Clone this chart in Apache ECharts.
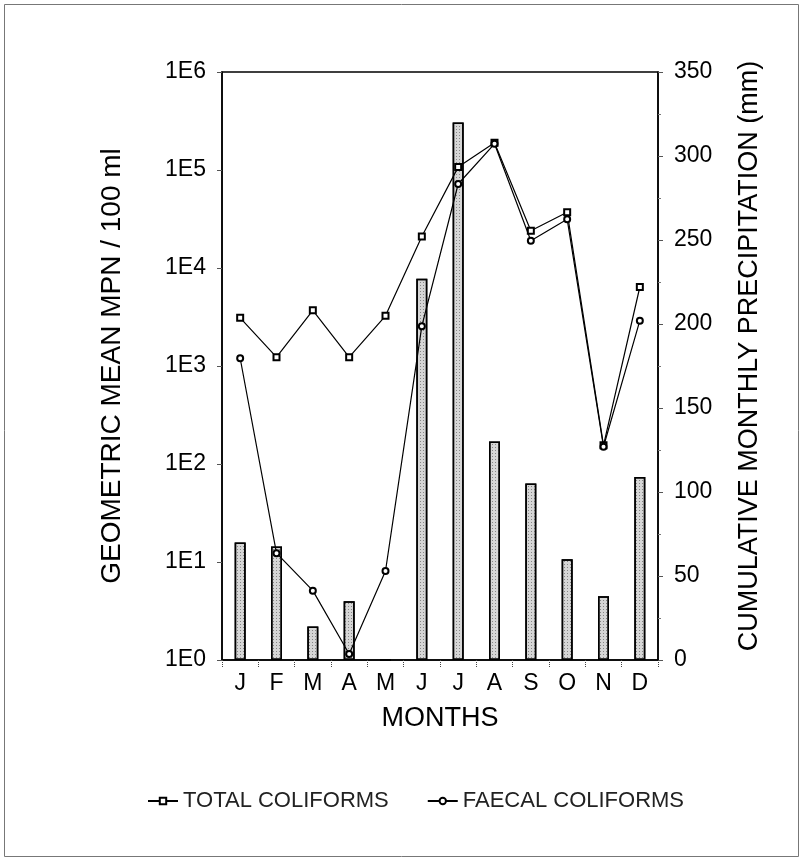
<!DOCTYPE html>
<html>
<head>
<meta charset="utf-8">
<script src="https://cdn.jsdelivr.net/npm/echarts@6/dist/echarts.min.js"></script>
<style>
html,body{margin:0;padding:0;background:#fff;}
#chart{width:799px;height:857px;}
</style>
</head>
<body>
<div id="chart"></div>
<script>
const months = ['J','F','M','A','M','J','J','A','S','O','N','D'];
const precipitation = [70, 67.5, 20, 35, 0, 227, 320, 130, 105, 60, 38, 109];
const totalColiforms = [3100, 1230, 3700, 1230, 3250, 21000, 107000, 190000, 24000, 37000, 155, 6400];
const faecalColiforms = [1200, 12.3, 5.1, 1.15, 8.1, 2550, 72000, 185000, 19000, 31500, 150, 2900];
const leftTicks = ['1E0','1E1','1E2','1E3','1E4','1E5','1E6'];

const FONT = '"Liberation Sans", Arial, sans-serif';
const chart = echarts.init(document.getElementById('chart'), null, {renderer: 'canvas'});
chart.setOption({
  animation: false,
  backgroundColor: '#fff',
  textStyle: {fontFamily: FONT, color: '#000'},
  aria: {enabled: false, decal: {show: false}},
  graphic: [{
    type: 'rect', left: 2, top: 2,
    shape: {width: 794, height: 852},
    style: {fill: 'none', stroke: '#777', lineWidth: 1}
  }],
  grid: {left: 222, right: 141, top: 72, bottom: 197, show: true, borderColor: '#000', borderWidth: 1.5},
  legend: {
    bottom: 40, left: 142,
    itemWidth: 30, itemHeight: 8, itemGap: 38,
    textStyle: {fontFamily: FONT, fontSize: 22, color: '#222'},
    data: ['TOTAL COLIFORMS', 'FAECAL COLIFORMS']
  },
  xAxis: {
    type: 'category', data: months, boundaryGap: true,
    name: 'MONTHS', nameLocation: 'middle', nameGap: 45,
    nameTextStyle: {fontFamily: FONT, fontSize: 27, color: '#000'},
    axisLine: {lineStyle: {color: '#000', width: 1.5}},
    axisTick: {show: true, length: 8, lineStyle: {color: '#444', type: 'dotted'}},
    axisLabel: {fontFamily: FONT, fontSize: 23, color: '#000', margin: 12}
  },
  yAxis: [{
    type: 'log', logBase: 10, min: 1, max: 1000000,
    name: 'GEOMETRIC MEAN MPN / 100 ml', nameLocation: 'middle', nameGap: 96, nameRotate: 90,
    nameTextStyle: {fontFamily: FONT, fontSize: 28, color: '#000'},
    axisLine: {show: true, lineStyle: {color: '#000', width: 1.5}},
    axisTick: {show: true, length: 5, lineStyle: {color: '#555'}},
    splitLine: {show: false},
    axisLabel: {fontFamily: FONT, fontSize: 23, color: '#000', margin: 16,
      formatter: v => leftTicks[Math.round(Math.log10(v))]}
  }, {
    type: 'value', min: 0, max: 350, interval: 50, position: 'right',
    name: 'CUMULATIVE MONTHLY PRECIPITATION (mm)', nameLocation: 'middle', nameGap: 78, nameRotate: 90,
    nameTextStyle: {fontFamily: FONT, fontSize: 27, color: '#000', padding: [0, 0, 0, 20]},
    axisLine: {show: true, lineStyle: {color: '#000', width: 1.5}},
    axisTick: {show: true, length: 5, lineStyle: {color: '#555'}},
    minorTick: {show: true, splitNumber: 2, length: 3, lineStyle: {color: '#777'}},
    splitLine: {show: false},
    axisLabel: {fontFamily: FONT, fontSize: 23, color: '#000', margin: 16}
  }],
  series: [{
    name: 'PRECIPITATION', type: 'bar', yAxisIndex: 1, data: precipitation,
    barWidth: 11, z: 1,
    itemStyle: {
      color: '#d6d6d6', borderColor: '#000', borderWidth: 1.5,
      decal: {symbol: 'rect', symbolSize: 1, color: 'rgba(70,70,70,0.55)',
              dashArrayX: [1, 2], dashArrayY: [1, 2], rotation: 0}
    }
  }, {
    name: 'TOTAL COLIFORMS', type: 'line', yAxisIndex: 0, data: totalColiforms,
    symbol: 'emptyRect', symbolSize: 6, z: 3,
    lineStyle: {color: '#000', width: 1.2},
    itemStyle: {color: '#000', borderColor: '#000', borderWidth: 1.2}
  }, {
    name: 'FAECAL COLIFORMS', type: 'line', yAxisIndex: 0, data: faecalColiforms,
    symbol: 'emptyCircle', symbolSize: 6, z: 3,
    lineStyle: {color: '#000', width: 1.2},
    itemStyle: {color: '#000', borderColor: '#000', borderWidth: 1.2}
  }]
});
</script>
</body>
</html>
